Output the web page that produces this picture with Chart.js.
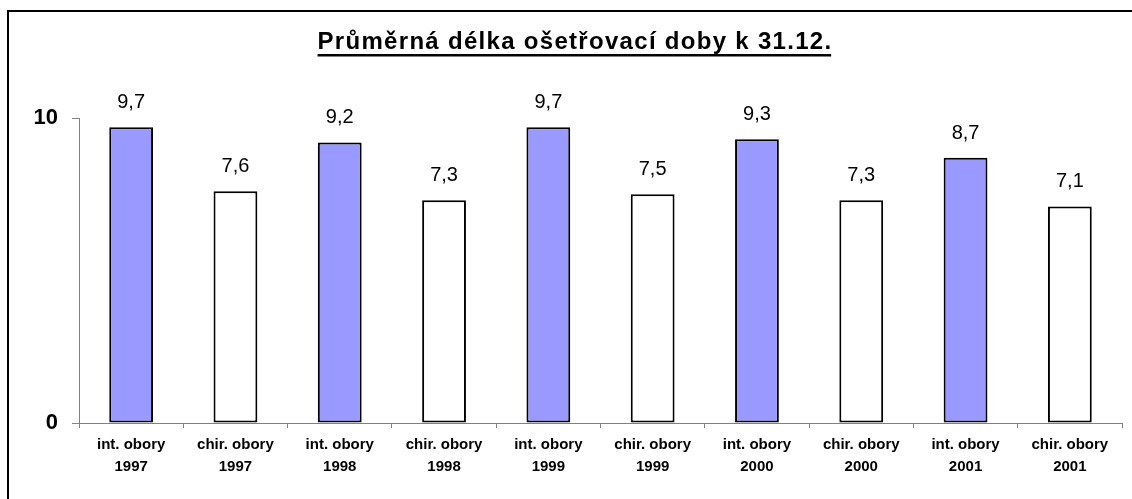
<!DOCTYPE html>
<html>
<head>
<meta charset="utf-8">
<script src="https://cdn.jsdelivr.net/npm/chart.js@4/dist/chart.umd.min.js"></script>
<style>
  html, body { margin: 0; padding: 0; background: #fff; }
  #wrap { width: 1132px; height: 499px; position: relative; }
</style>
</head>
<body>
<div id="wrap"><canvas id="chart" width="1132" height="499"></canvas></div>
<script>
// Chart data
const titleText = 'Průměrná délka ošetřovací doby k 31.12.';
const categories = [
    ['int. obory', '1997'], ['chir. obory', '1997'],
    ['int. obory', '1998'], ['chir. obory', '1998'],
    ['int. obory', '1999'], ['chir. obory', '1999'],
    ['int. obory', '2000'], ['chir. obory', '2000'],
    ['int. obory', '2001'], ['chir. obory', '2001']
];
const values = [9.7, 7.6, 9.2, 7.3, 9.7, 7.5, 9.3, 7.3, 8.7, 7.1];
const yTicks = [0, 10];

const FONT = "Arial, 'Liberation Sans', sans-serif";
const barColors = values.map((v, i) => i % 2 === 0 ? '#9999ff' : '#ffffff');

// frame + title + value labels
const decorPlugin = {
    id: 'decor',
    afterDraw(chart) {
        const ctx = chart.ctx;
        ctx.save();

        // outer frame (cut off at right and bottom)
        ctx.strokeStyle = '#000';
        ctx.lineWidth = 2;
        ctx.strokeRect(8, 11, 1140, 510);

        // title, bold + underlined
        ctx.font = 'bold 24px ' + FONT;
        ctx.letterSpacing = '1.3px';
        ctx.fillStyle = '#000';
        ctx.textBaseline = 'alphabetic';
        ctx.textAlign = 'left';
        const w = ctx.measureText(titleText).width;
        const tx = 575 - w / 2;
        ctx.fillText(titleText, tx, 49);
        ctx.fillRect(tx, 54, w - 1.3, 2.5);
        ctx.letterSpacing = '0px';

        // value labels above bars
        ctx.font = '20px ' + FONT;
        ctx.textAlign = 'center';
        const meta = chart.getDatasetMeta(0);
        meta.data.forEach((bar, i) => {
            const txt = values[i].toFixed(1).replace('.', ',');
            ctx.fillText(txt, bar.x, bar.y - 19);
        });
        ctx.restore();
    }
};

new Chart(document.getElementById('chart'), {
    type: 'bar',
    data: {
        labels: categories,
        datasets: [{
            data: values,
            backgroundColor: barColors,
            borderColor: '#000',
            borderWidth: 2,
            borderSkipped: false,
            categoryPercentage: 1,
            barPercentage: 0.42
        }]
    },
    options: {
        responsive: false,
        animation: false,
        layout: { padding: { left: 0, right: 10, top: 118, bottom: 0 } },
        plugins: {
            legend: { display: false },
            tooltip: { enabled: false }
        },
        scales: {
            x: {
                afterFit(scale) { scale.height = 76; },
                border: { display: true, color: '#808080', width: 1 },
                grid: {
                    offset: true,
                    drawOnChartArea: false,
                    tickLength: 5,
                    color: '#808080'
                },
                ticks: {
                    color: '#000',
                    padding: 6,
                    maxRotation: 0,
                    autoSkip: false,
                    font: { family: FONT, size: 15, weight: 'bold', lineHeight: 1.47 }
                }
            },
            y: {
                min: 0,
                max: 10,
                afterFit(scale) { scale.width = 79; },
                afterBuildTicks(scale) { scale.ticks = yTicks.map(v => ({ value: v })); },
                border: { display: true, color: '#808080', width: 1 },
                grid: {
                    drawOnChartArea: false,
                    tickLength: 7,
                    color: '#808080'
                },
                ticks: {
                    color: '#000',
                    padding: 14,
                    font: { family: FONT, size: 22, weight: 'bold' }
                }
            }
        }
    },
    plugins: [decorPlugin]
});
</script>
</body>
</html>
